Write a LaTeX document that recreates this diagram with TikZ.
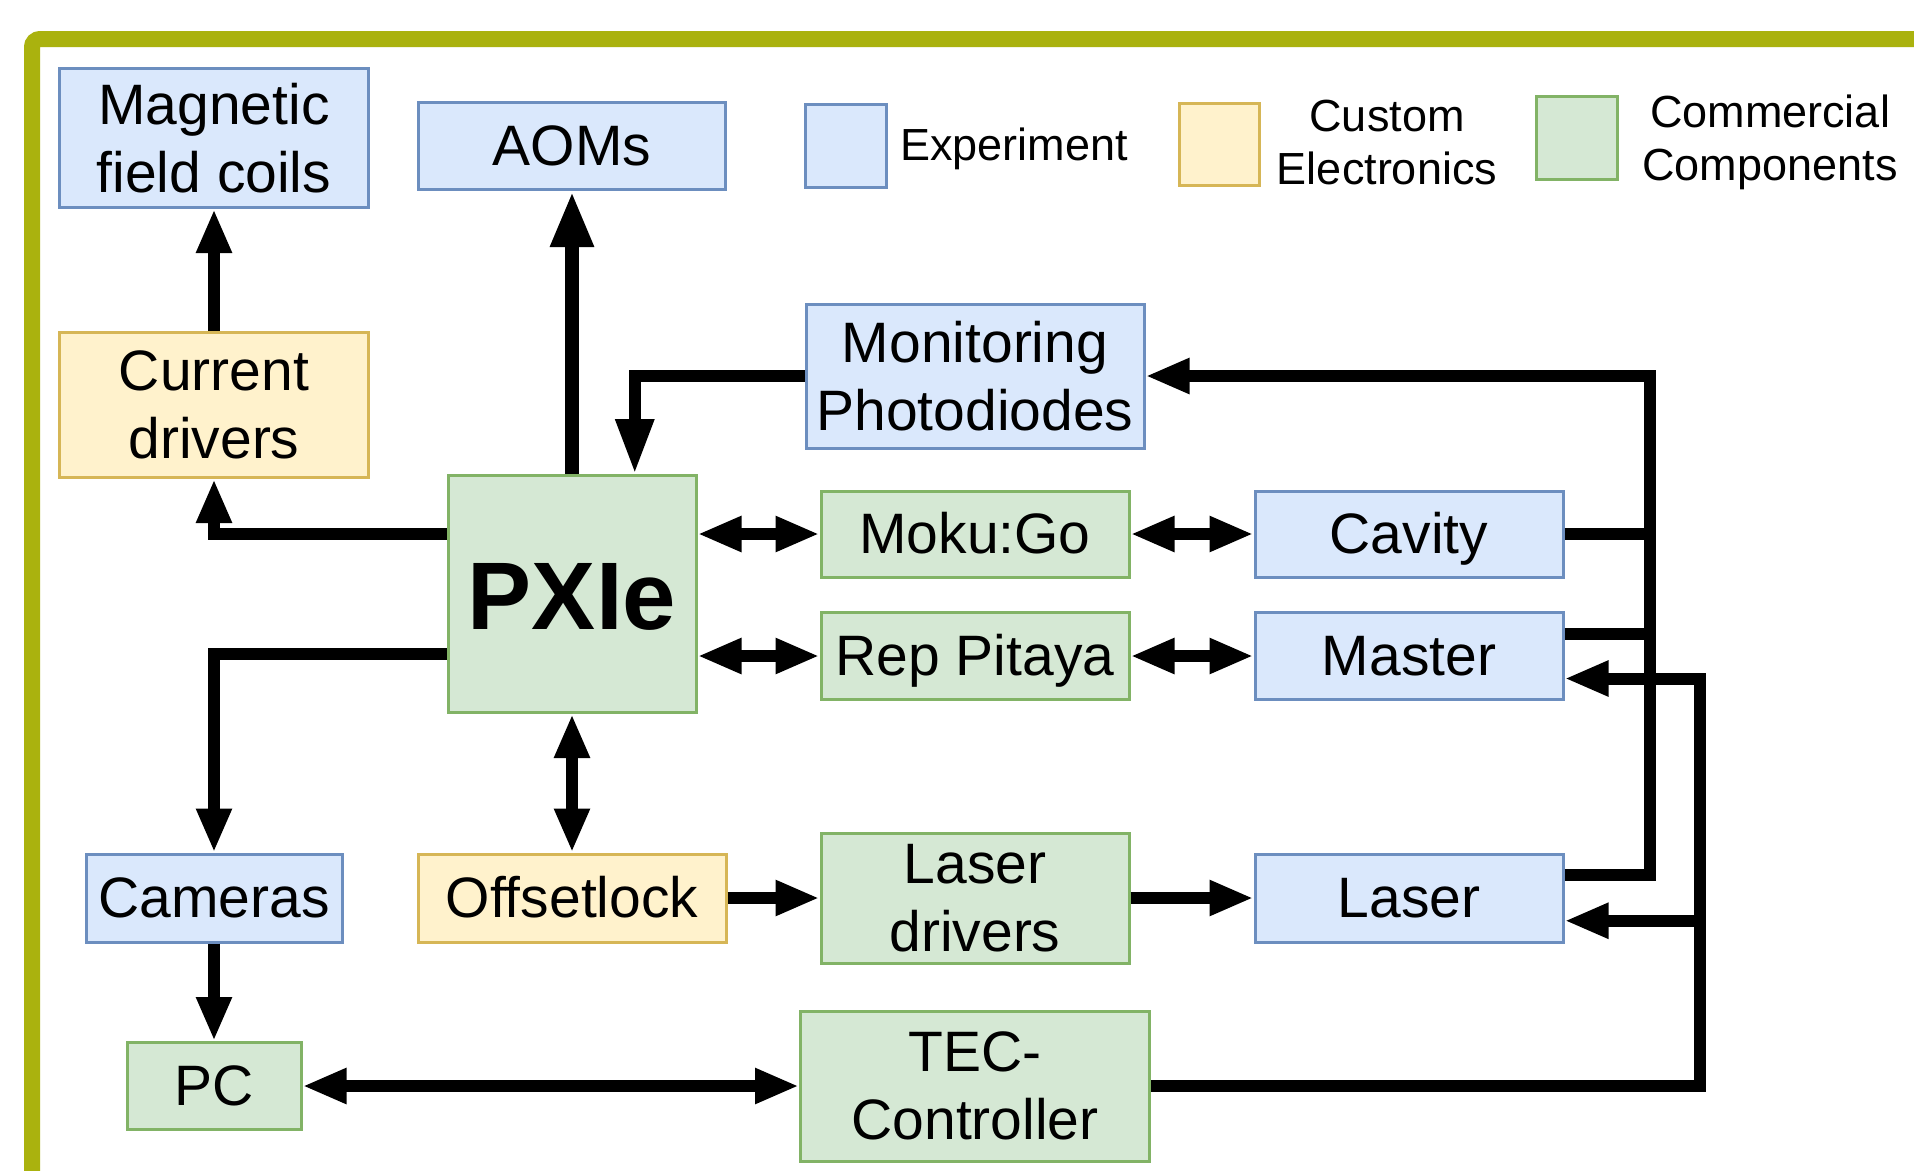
\documentclass[tikz,border=0pt]{standalone}
\usepackage{fontspec}
\setmainfont{Liberation Sans}
\usetikzlibrary{arrows.meta,calc}
\definecolor{expfill}{HTML}{DAE8FC}
\definecolor{expline}{HTML}{6C8EBF}
\definecolor{cusfill}{HTML}{FFF2CC}
\definecolor{cusline}{HTML}{D6B656}
\definecolor{comfill}{HTML}{D5E8D4}
\definecolor{comline}{HTML}{82B366}
\definecolor{framecol}{RGB}{170,178,14}
\begin{document}
\begin{tikzpicture}[x=1pt,y=-1pt,
  box/.style={rectangle, line width=3pt, inner sep=0pt, align=center, font=\fontsize{57}{68}\selectfont},
  exp/.style={box, fill=expfill, draw=expline},
  cus/.style={box, fill=cusfill, draw=cusline},
  com/.style={box, fill=comfill, draw=comline},
  one/.style={text height=50pt, text depth=11pt},
  wire/.style={line width=12pt, draw=black},
  tip/.tip={Triangle[length=44pt,width=33pt]},
  bigtip/.tip={Triangle[length=56pt,width=40pt]},
  longtip/.tip={Triangle[length=55pt,width=36pt]},
  arr/.style={wire, -tip},
  darr/.style={wire, tip-tip},
  legtext/.style={align=center, inner sep=0pt, font=\fontsize{45}{53}\selectfont}
]
\useasboundingbox (0,0) rectangle (1914,1170);
\fill[white] (0,0) rectangle (1914,1170);
\clip (0,0) rectangle (1914,1170);
% frame
\draw[line width=16pt, draw=framecol, rounded corners=8pt] (32,39) rectangle (1924,1210);

% legend
\node[exp, minimum width=81pt, minimum height=83pt] (legexp) at (846,146) {};
\node[legtext] (legexpt) at (1014,149) {Experiment};
\node[cus, minimum width=80pt, minimum height=82pt] (legcus) at (1219,144) {};
\node[legtext] (legcust) at (1387,143) {Custom\\Electronics};
\node[com, minimum width=81pt, minimum height=83pt] (legcom) at (1577,138) {};
\node[legtext] (legcomt) at (1770,142) {Commercial\\Components};

% nodes
\node[exp, minimum width=309pt, minimum height=139pt] (mag) at (214,138) {Magnetic\\field coils};
\node[exp, one, minimum width=307pt, minimum height=87pt] (aom) at (572,146) {AOMs};
\node[cus, minimum width=309pt, minimum height=145pt] (cur) at (214,405) {Current\\drivers};
\node[exp, minimum width=338pt, minimum height=144pt] (mon) at (975,376) {Monitoring\\Photodiodes};
\node[com, minimum width=248pt, minimum height=237pt, font=\fontsize{96}{110}\selectfont\bfseries, text height=70pt, text depth=0pt] (pxie) at (572,594) {PXIe};
\node[com, one, minimum width=308pt, minimum height=86pt] (moku) at (975,534) {Moku:Go};
\node[exp, one, minimum width=308pt, minimum height=86pt] (cav) at (1409,534) {Cavity};
\node[com, one, minimum width=308pt, minimum height=87pt] (rep) at (975,656) {Rep Pitaya};
\node[exp, one, minimum width=308pt, minimum height=87pt] (mas) at (1409,656) {Master};
\node[exp, one, minimum width=256pt, minimum height=88pt] (cam) at (214,898) {Cameras};
\node[cus, one, minimum width=308pt, minimum height=88pt] (off) at (572,898) {Offsetlock};
\node[com, minimum width=308pt, minimum height=130pt] (ld) at (975,898) {Laser\\drivers};
\node[exp, one, minimum width=308pt, minimum height=88pt] (las) at (1409,898) {Laser};
\node[com, one, minimum width=174pt, minimum height=87pt] (pc) at (214,1086) {PC};
\node[com, minimum width=349pt, minimum height=150pt] (tec) at (975,1086) {TEC-\\Controller};

% helper coordinates
\coordinate (bx) at (1650,0);
\coordinate (tx) at (1700,0);
\coordinate (pxtop) at ($(pxie.north west)!0.75!(pxie.north east)$);
\coordinate (pxl1) at ($(pxie.north west)!0.25!(pxie.south west)$);
\coordinate (pxl2) at ($(pxie.north west)!0.75!(pxie.south west)$);
\coordinate (masout) at ($(mas.north east)!0.25!(mas.south east)$);
\coordinate (masin) at ($(mas.north east)!0.75!(mas.south east)$);
\coordinate (lasout) at ($(las.north east)!0.25!(las.south east)$);
\coordinate (lasin) at ($(las.north east)!0.75!(las.south east)$);

% connectors
\draw[arr] (cur.north) -- (mag.south);
\draw[wire, line width=14pt, -bigtip] (pxie.north) -- (aom.south);
\draw[wire, -longtip] (mon.west) -| (pxtop);
\draw[arr] (pxl1) -| (cur.south);
\draw[arr] (pxl2) -| (cam.north);
\draw[darr] (moku.west -| pxie.east) -- (moku.west);
\draw[darr] (rep.west -| pxie.east) -- (rep.west);
\draw[darr] (moku.east) -- (cav.west);
\draw[darr] (rep.east) -- (mas.west);
\draw[darr] (pxie.south) -- (off.north);
\draw[arr] (off.east) -- (ld.west);
\draw[arr] (ld.east) -- (las.west);
\draw[arr] (cam.south) -- (pc.north);
\draw[darr] (pc.east) -- (tec.west);
\draw[wire] (cav.east) -- (cav.east -| bx);
\draw[wire] (masout) -- (masout -| bx);
\draw[arr] (lasout) -| (mon.east -| bx) -- (mon.east);
\draw[arr] (tec.east) -| (masin -| tx) -- (masin);
\draw[arr] (lasin -| tx) -- (lasin);
\end{tikzpicture}
\end{document}
